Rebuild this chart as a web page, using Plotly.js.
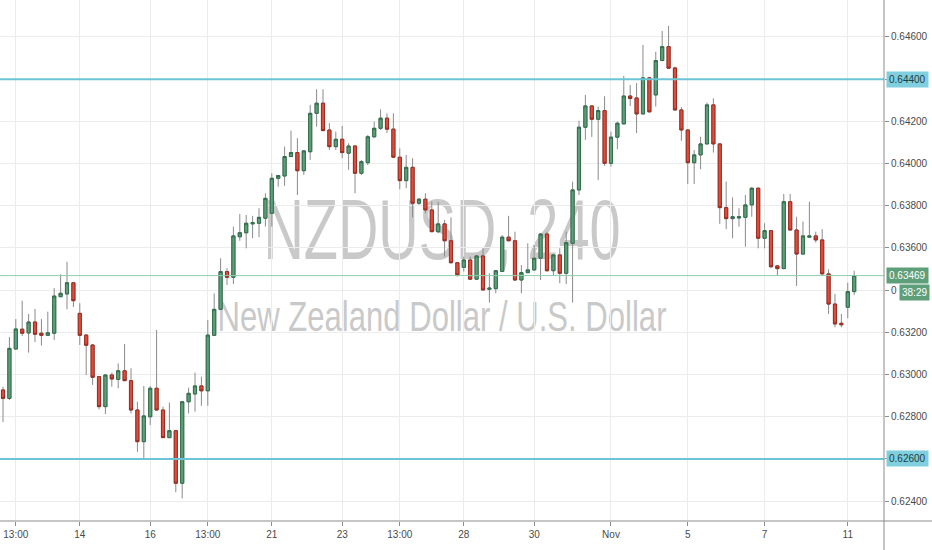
<!DOCTYPE html>
<html>
<head>
<meta charset="utf-8">
<script src="https://cdn.plot.ly/plotly-3.0.1.min.js"></script>
<style>
  html, body { margin: 0; padding: 0; background: #fff; }
  #chart { width: 932px; height: 550px; }
</style>
</head>
<body>
<div id="chart"></div>
<script>
// NZDUSD 240 min candles

var opens = [
  0.62927, 0.62887, 0.63121, 0.63215, 0.63197, 0.63249, 0.63196, 0.63186, 0.63196, 0.63369,
  0.63382, 0.63435, 0.63290, 0.63187, 0.63140, 0.62990, 0.62848, 0.62998, 0.62977, 0.63018,
  0.62971, 0.62832, 0.62682, 0.62800, 0.62935, 0.62832, 0.62701, 0.62734, 0.62485, 0.62871,
  0.62908, 0.62946, 0.62923, 0.63186, 0.63309, 0.63488, 0.63461, 0.63653, 0.63672, 0.63714,
  0.63717, 0.63741, 0.63764, 0.63930, 0.63941, 0.64033, 0.64052, 0.63966, 0.64056, 0.64238,
  0.64286, 0.64159, 0.64080, 0.64115, 0.64049, 0.64083, 0.63954, 0.64004, 0.64127, 0.64167,
  0.64215, 0.64163, 0.64030, 0.63919, 0.63982, 0.63812, 0.63831, 0.63780, 0.63677, 0.63714,
  0.63634, 0.63530, 0.63508, 0.63543, 0.63452, 0.63562, 0.63404, 0.63407, 0.63489, 0.63651,
  0.63634, 0.63448, 0.63483, 0.63496, 0.63551, 0.63666, 0.63492, 0.63567, 0.63480, 0.63622,
  0.63875, 0.64172, 0.64273, 0.64210, 0.64251, 0.64001, 0.64125, 0.64188, 0.64320, 0.64311,
  0.64235, 0.64406, 0.64325, 0.64488, 0.64554, 0.64453, 0.64254, 0.64159, 0.64004, 0.64041,
  0.64093, 0.64278, 0.64093, 0.63791, 0.63739, 0.63742, 0.63745, 0.63804, 0.63883, 0.63646,
  0.63682, 0.63515, 0.63502, 0.63819, 0.63685, 0.63571, 0.63651, 0.63657, 0.63638, 0.63477,
  0.63334, 0.63243, 0.63319, 0.63393
];
var highs = [
  0.62942, 0.63178, 0.63263, 0.63350, 0.63287, 0.63311, 0.63263, 0.63298, 0.63410, 0.63475,
  0.63534, 0.63439, 0.63338, 0.63192, 0.63145, 0.62993, 0.63002, 0.63009, 0.63053, 0.63145,
  0.63030, 0.62871, 0.62946, 0.62946, 0.63211, 0.62848, 0.62867, 0.62737, 0.62875, 0.62938,
  0.63009, 0.62990, 0.63259, 0.63385, 0.63551, 0.63504, 0.63701, 0.63761, 0.63756, 0.63752,
  0.63788, 0.63859, 0.63954, 0.63946, 0.64080, 0.64156, 0.64120, 0.64064, 0.64278, 0.64352,
  0.64352, 0.64191, 0.64151, 0.64178, 0.64096, 0.64088, 0.64017, 0.64135, 0.64199, 0.64257,
  0.64238, 0.64238, 0.64072, 0.64041, 0.64025, 0.63837, 0.63859, 0.63819, 0.63819, 0.63733,
  0.63745, 0.63534, 0.63559, 0.63559, 0.63567, 0.63598, 0.63480, 0.63496, 0.63661, 0.63752,
  0.63677, 0.63519, 0.63622, 0.63614, 0.63671, 0.63677, 0.63571, 0.63598, 0.63677, 0.63914,
  0.64203, 0.64325, 0.64275, 0.64270, 0.64319, 0.64151, 0.64199, 0.64415, 0.64372, 0.64381,
  0.64562, 0.64410, 0.64530, 0.64628, 0.64652, 0.64459, 0.64267, 0.64162, 0.64064, 0.64127,
  0.64289, 0.64309, 0.64095, 0.63914, 0.63840, 0.63788, 0.63851, 0.63888, 0.63887, 0.63717,
  0.63685, 0.63517, 0.63856, 0.63856, 0.63748, 0.63725, 0.63819, 0.63677, 0.63689, 0.63499,
  0.63382, 0.63287, 0.63435, 0.63492
];
var lows = [
  0.62775, 0.62879, 0.63119, 0.63183, 0.63104, 0.63154, 0.63137, 0.63183, 0.63164, 0.63368,
  0.63309, 0.63320, 0.63140, 0.62998, 0.62951, 0.62835, 0.62813, 0.62942, 0.62935, 0.62969,
  0.62816, 0.62634, 0.62595, 0.62761, 0.62830, 0.62700, 0.62700, 0.62442, 0.62413, 0.62816,
  0.62824, 0.62852, 0.62852, 0.63183, 0.63306, 0.63424, 0.63429, 0.63634, 0.63598, 0.63646,
  0.63651, 0.63701, 0.63701, 0.63890, 0.63894, 0.64031, 0.63851, 0.63946, 0.64017, 0.64175,
  0.64154, 0.64064, 0.64064, 0.64025, 0.63970, 0.63859, 0.63946, 0.63993, 0.64120, 0.64159,
  0.64144, 0.64026, 0.63878, 0.63883, 0.63745, 0.63804, 0.63764, 0.63676, 0.63670, 0.63559,
  0.63527, 0.63464, 0.63488, 0.63448, 0.63448, 0.63398, 0.63341, 0.63385, 0.63488, 0.63633,
  0.63445, 0.63385, 0.63480, 0.63492, 0.63448, 0.63488, 0.63467, 0.63433, 0.63429, 0.63341,
  0.63851, 0.64112, 0.64126, 0.63922, 0.63989, 0.63985, 0.64068, 0.64185, 0.64273, 0.64144,
  0.64233, 0.64242, 0.64270, 0.64486, 0.64451, 0.64251, 0.64108, 0.63903, 0.63903, 0.63973,
  0.64091, 0.64052, 0.63714, 0.63689, 0.63646, 0.63701, 0.63606, 0.63748, 0.63598, 0.63598,
  0.63504, 0.63467, 0.63500, 0.63683, 0.63420, 0.63569, 0.63650, 0.63625, 0.63474, 0.63287,
  0.63224, 0.63224, 0.63267, 0.63377
];
var closes = [
  0.62887, 0.63124, 0.63216, 0.63196, 0.63249, 0.63191, 0.63186, 0.63198, 0.63372, 0.63385,
  0.63435, 0.63350, 0.63186, 0.63139, 0.62987, 0.62848, 0.62998, 0.62979, 0.63018, 0.62971,
  0.62832, 0.62682, 0.62804, 0.62935, 0.62832, 0.62701, 0.62734, 0.62485, 0.62871, 0.62911,
  0.62946, 0.62923, 0.63187, 0.63309, 0.63488, 0.63461, 0.63657, 0.63672, 0.63717, 0.63720,
  0.63745, 0.63835, 0.63930, 0.63943, 0.64033, 0.64052, 0.63966, 0.64060, 0.64238, 0.64286,
  0.64156, 0.64080, 0.64115, 0.64052, 0.64083, 0.63954, 0.64009, 0.64127, 0.64167, 0.64215,
  0.64163, 0.64030, 0.63919, 0.63982, 0.63812, 0.63831, 0.63780, 0.63677, 0.63714, 0.63634,
  0.63530, 0.63472, 0.63543, 0.63452, 0.63562, 0.63401, 0.63410, 0.63492, 0.63651, 0.63634,
  0.63448, 0.63483, 0.63496, 0.63551, 0.63666, 0.63492, 0.63567, 0.63480, 0.63625, 0.63875,
  0.64172, 0.64273, 0.64210, 0.64251, 0.64001, 0.64125, 0.64191, 0.64320, 0.64308, 0.64235,
  0.64406, 0.64245, 0.64488, 0.64554, 0.64452, 0.64254, 0.64159, 0.64004, 0.64041, 0.64093,
  0.64278, 0.64093, 0.63791, 0.63739, 0.63748, 0.63748, 0.63804, 0.63883, 0.63646, 0.63682,
  0.63511, 0.63502, 0.63819, 0.63685, 0.63571, 0.63657, 0.63657, 0.63638, 0.63477, 0.63334,
  0.63240, 0.63236, 0.63393, 0.63469
];

// bottom axis labels and the candle they sit under
var xTickIdx = [2, 12, 23, 32, 42, 53, 62, 72, 83, 95, 107, 119, 132];
var xTickText = ['13:00', '14', '16', '13:00', '21', '23', '13:00', '28', '30', 'Nov', '5', '7', '11'];

// price scale: 0.62400 .. 0.64600 every 0.00200
var yTickVals = [0.624, 0.626, 0.628, 0.630, 0.632, 0.634, 0.636, 0.638, 0.640, 0.642, 0.644, 0.646];

// horizontal levels drawn on the chart
var levels = [0.64400, 0.62600];
var countdown = '38:29';
var symbolText = 'NZDUSD, 240';
var nameText = 'New Zealand Dollar / U.S. Dollar';

var FONT = "'Liberation Sans', Arial, sans-serif";
var GREEN = '#5e9f7a', RED = '#e04c3b';

var idx = [];
for (var i = 0; i < closes.length; i++) idx.push(i);
var bodyHi = [], bodyLo = [];
for (i = 0; i < closes.length; i++) {
    bodyHi.push(Math.max(opens[i], closes[i]));
    bodyLo.push(Math.min(opens[i], closes[i]));
}
var lastPrice = closes[closes.length - 1];

// tick labels hidden by the price boxes on the right
var yTickText = yTickVals.map(function (v) {
    var hidden = levels.some(function (lv) { return Math.abs(lv - v) < 1e-9; });
    if (hidden) return '';
    if (Math.abs(v - lastPrice) < 0.001) return '0';   // only its first digit peeks out
    return v.toFixed(5);
});

// wicks (grey), then bodies on top with darker borders
var wicks = {
    type: 'candlestick', x: idx, open: opens, high: highs, low: lows, close: closes,
    increasing: {line: {color: '#8a8a8a', width: 1}, fillcolor: GREEN},
    decreasing: {line: {color: '#8a8a8a', width: 1}, fillcolor: RED},
    hoverinfo: 'skip', showlegend: false
};
var bodies = {
    type: 'candlestick', x: idx, open: opens, high: bodyHi, low: bodyLo, close: closes,
    increasing: {line: {color: '#2f6e4b', width: 1}, fillcolor: GREEN},
    decreasing: {line: {color: '#9a2c20', width: 1}, fillcolor: RED},
    showlegend: false
};

var shapes = [];
levels.forEach(function (lv) {
    shapes.push({type: 'line', xref: 'paper', x0: 0, x1: 1, yref: 'y', y0: lv, y1: lv,
        line: {color: '#6cc4d7', width: 2}});
});
shapes.push({type: 'line', xref: 'paper', x0: 0, x1: 1, yref: 'y', y0: lastPrice, y1: lastPrice,
    line: {color: '#8fcfab', width: 1}});
// watermark
shapes.push({type: 'rect', layer: 'below', xref: 'paper', yref: 'paper',
    x0: 0.1, x1: 0.9, y0: 0.5, y1: 0.65, line: {width: 0}, fillcolor: 'rgba(0,0,0,0)',
    label: {text: symbolText, textposition: 'middle center',
        font: {family: FONT, size: 86, color: '#c9c9c9'}}});
shapes.push({type: 'rect', layer: 'below', xref: 'paper', yref: 'paper',
    x0: 0.1, x1: 0.9, y0: 0.36, y1: 0.44, line: {width: 0}, fillcolor: 'rgba(0,0,0,0)',
    label: {text: nameText, textposition: 'middle center',
        font: {family: FONT, size: 42, color: '#c9c9c9'}}});
// axis lines running into the margins
shapes.push({type: 'line', xref: 'paper', yref: 'paper', x0: 0, x1: 1.06, y0: 0, y1: 0,
    line: {color: '#8c8c8c', width: 1}});
shapes.push({type: 'line', xref: 'paper', yref: 'paper', x0: 1, x1: 1, y0: -0.06, y1: 1,
    line: {color: '#8c8c8c', width: 1}});

var annotations = [];
levels.forEach(function (lv) {
    annotations.push({xref: 'paper', x: 1, xanchor: 'left', xshift: 2, yref: 'y', y: lv,
        text: lv.toFixed(5), showarrow: false, bgcolor: '#7fcfdf', borderpad: 2,
        font: {family: FONT, size: 10, color: '#1e3c40'}});
});
annotations.push({xref: 'paper', x: 1, xanchor: 'left', xshift: 2, yref: 'y', y: lastPrice,
    text: lastPrice.toFixed(5), showarrow: false, bgcolor: GREEN, borderpad: 2,
    font: {family: FONT, size: 10, color: '#ffffff'}});
annotations.push({xref: 'paper', x: 1, xanchor: 'left', xshift: 15, yref: 'y', y: lastPrice, yshift: -17,
    text: countdown, showarrow: false, bgcolor: GREEN, borderpad: 2,
    font: {family: FONT, size: 10, color: '#ffffff'}});

var layout = {
    width: 932,
    height: 550,
    margin: {l: 0, r: 48, t: 0, b: 29, pad: 0},
    paper_bgcolor: '#ffffff',
    plot_bgcolor: '#ffffff',
    showlegend: false,
    hovermode: 'closest',
    font: {family: FONT, size: 10, color: '#4a4a4a'},
    xaxis: {
        range: [-0.47, 137.66],
        tickmode: 'array',
        tickvals: xTickIdx,
        ticktext: xTickText,
        ticks: 'outside',
        ticklen: 4,
        tickcolor: '#8c8c8c',
        showgrid: true,
        gridcolor: '#ececec',
        zeroline: false,
        showline: false,
        rangeslider: {visible: false},
        tickfont: {family: FONT, size: 10, color: '#4a4a4a'}
    },
    yaxis: {
        side: 'right',
        range: [0.62306, 0.64775],
        tickmode: 'array',
        tickvals: yTickVals,
        ticktext: yTickText,
        ticks: 'outside',
        ticklen: 4,
        tickcolor: '#8c8c8c',
        showgrid: true,
        gridcolor: '#ececec',
        zeroline: false,
        showline: false,
        tickfont: {family: FONT, size: 10, color: '#4a4a4a'}
    },
    shapes: shapes,
    annotations: annotations
};

Plotly.newPlot('chart', [wicks, bodies], layout, {displayModeBar: false, responsive: false}).then(function (gd) {
    // the watermark font is a condensed face; squeeze the texts horizontally
    var squeeze = {};
    squeeze[symbolText] = 0.65;
    squeeze[nameText] = 0.74;
    gd.querySelectorAll('text').forEach(function (t) {
        var k = squeeze[t.textContent];
        if (k) {
            t.style.transformBox = 'fill-box';
            t.style.transformOrigin = 'center';
            t.style.transform = 'scaleX(' + k + ')';
        }
    });
});
</script>
</body>
</html>
